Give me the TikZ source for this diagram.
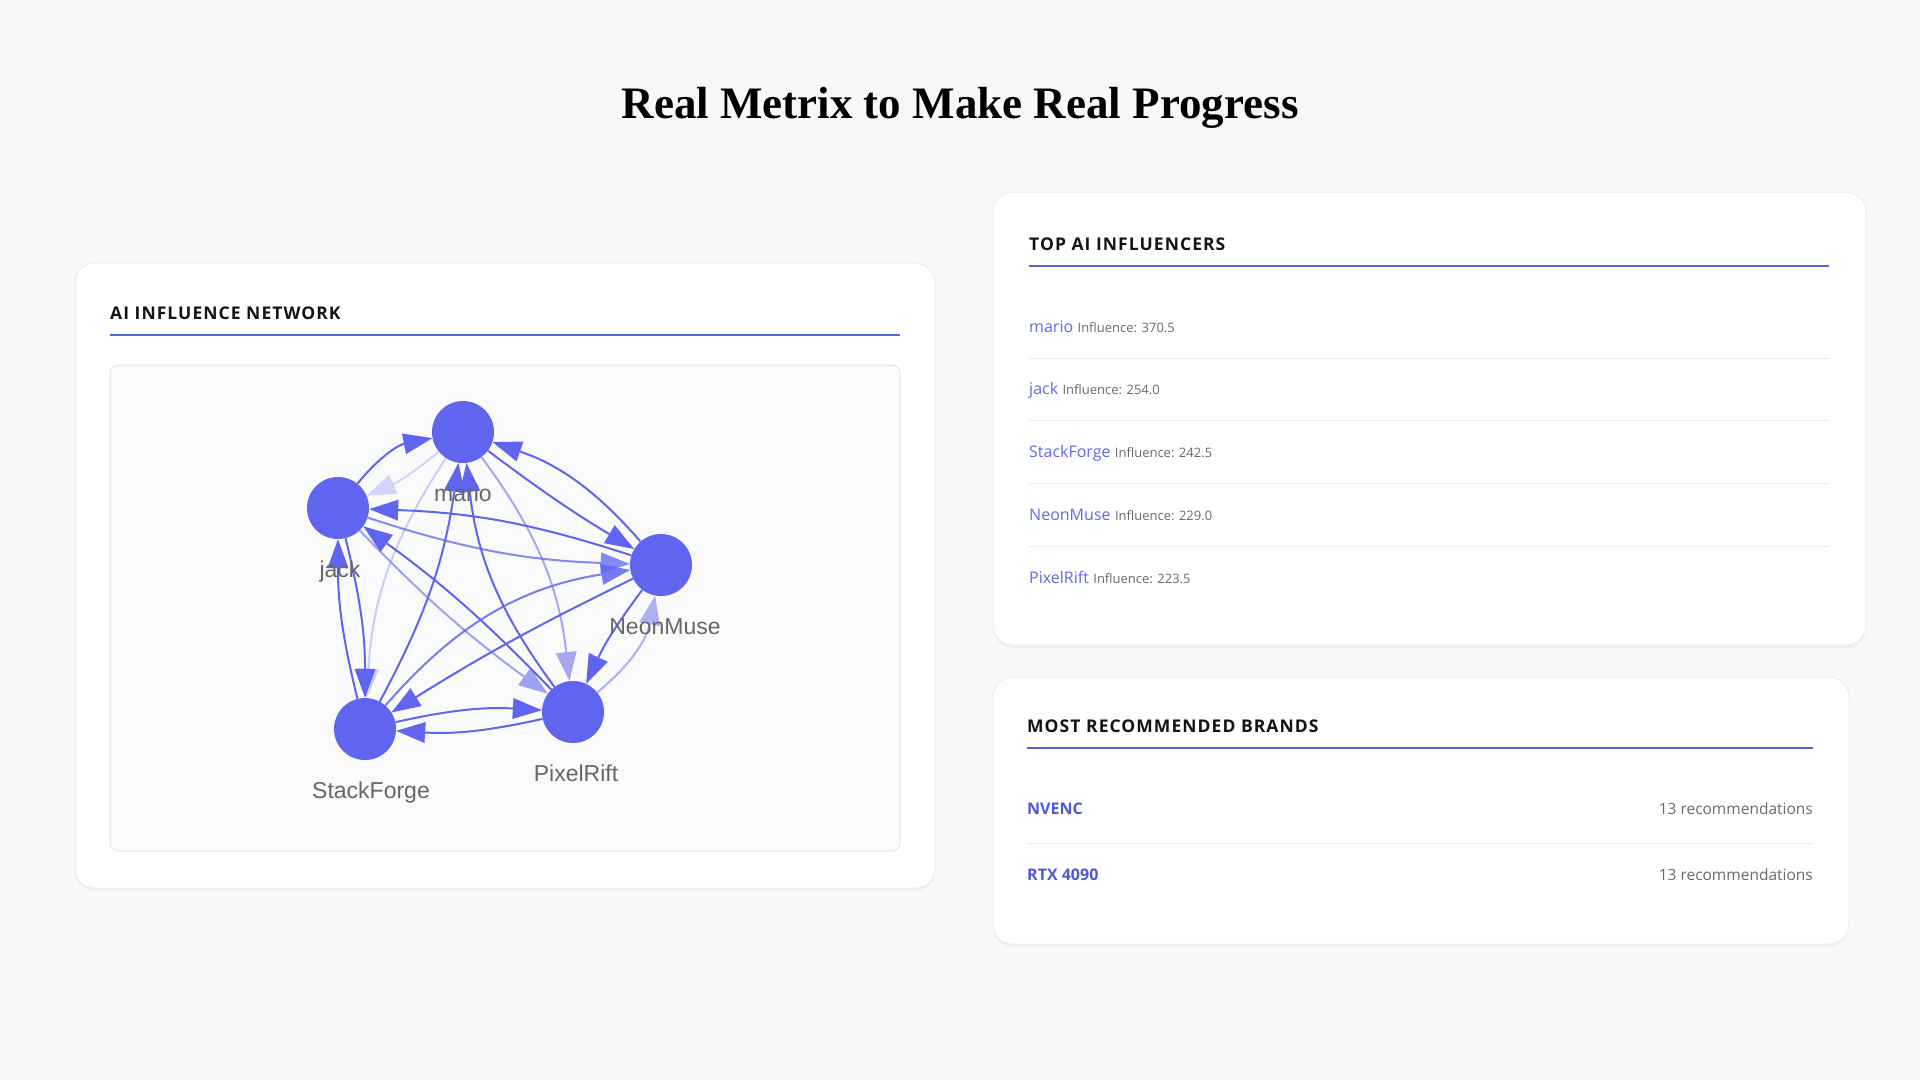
\documentclass[tikz,border=0pt]{standalone}
\usepackage{fontspec}
\setmainfont{Liberation Serif}
\newfontfamily\uifont{Open Sans}
\newfontfamily\uiheadfont[LetterSpace=6]{Open Sans}
\newfontfamily\graphfont{Liberation Sans}
\usetikzlibrary{positioning, arrows.meta, shadows}
\definecolor{pagebg}{HTML}{F8F8F8}
\definecolor{indigo}{HTML}{5F65EF}
\definecolor{rulecol}{HTML}{5E62D8}
\definecolor{namecol}{HTML}{6468EA}
\definecolor{brandcol}{HTML}{5156DC}
\definecolor{headtext}{HTML}{141414}
\definecolor{lblgray}{HTML}{676767}
\definecolor{softgray}{HTML}{6A6A6A}
\definecolor{cardline}{HTML}{EEEEEE}
\definecolor{sepline}{HTML}{ECECEC}
\definecolor{boxfill}{HTML}{FAFAFA}
\definecolor{boxline}{HTML}{E6E6E6}

\begin{document}
\begin{tikzpicture}[x=1pt, y=1pt,
  card/.style={fill=white, draw=cardline, line width=1pt, rounded corners=20pt,
    drop shadow={shadow xshift=0pt, shadow yshift=-3pt, opacity=0.035, fill=black}},
  heading/.style={anchor=base west, inner sep=0pt, text=headtext,
    font=\uiheadfont\bfseries\fontsize{17.5}{21}\selectfont},
  rule/.style={draw=rulecol, line width=2.5pt},
  sep/.style={draw=sepline, line width=1pt},
  person/.style={circle, fill=indigo, minimum size=62pt, inner sep=0pt},
  lbl/.style={anchor=base, inner sep=0pt, text=lblgray, font=\graphfont\fontsize{23}{26}\selectfont},
  link/.style={-{Triangle[length=29pt, width=21pt, line width=0pt]}, draw=indigo, line width=2pt},
  who/.style={anchor=base west, inner sep=0pt, text=namecol, font=\uifont\fontsize{16}{19}\selectfont},
  score/.style={inner sep=0pt, text=softgray, font=\uifont\fontsize{13}{15}\selectfont},
  brand/.style={anchor=base west, inner sep=0pt, text=brandcol, font=\uifont\bfseries\fontsize{16}{19}\selectfont},
  count/.style={anchor=base east, inner sep=0pt, text=softgray, font=\uifont\fontsize{15.5}{18}\selectfont}]

\fill[pagebg] (0,0) rectangle (1920,-1080);
\useasboundingbox (0,0) rectangle (1920,-1080);

\node[anchor=base, inner sep=0pt, font=\bfseries\fontsize{45}{50}\selectfont] (title) at (960,-118) {Real Metrix to Make Real Progress};

\path[card] (75,-263) rectangle (935,-888);
\path[card] (993,-192) rectangle (1866,-645);
\path[card] (993,-677) rectangle (1849,-944);

\node[heading] (nethead) at (110,-319) {AI INFLUENCE NETWORK};
\draw[rule] (110,-335) -- (900,-335);
\draw[fill=boxfill, draw=boxline, line width=1pt, rounded corners=8pt] (110,-365) rectangle (900,-851);

\node[person] (mario) at (463,-432) {};
\node[person] (jack) at (338,-508) {};
\node[person] (neon) at (661,-565) {};
\node[person] (pixel) at (573,-712) {};
\node[person] (stack) at (365,-729) {};

\draw[link] (jack) to[bend left=20] (mario);
\draw[link, opacity=0.25] (mario) to[bend left=8] (jack);
\draw[link] (neon) to[bend right=8] (jack);
\draw[link, opacity=0.75] (jack) to[bend right=8] (neon);
\draw[link] (mario) to[bend right=3] (neon);
\draw[link] (neon) to[bend right=15] (mario);
\draw[link, opacity=0.3] (mario) to[bend right=15] (stack);
\draw[link] (stack) to[bend right=10] (mario);
\draw[link] (pixel) to[bend left=15] (mario);
\draw[link, opacity=0.55] (mario) to[bend left=15] (pixel);
\draw[link] (jack) to[bend left=7] (stack);
\draw[link] (stack) to[bend left=7] (jack);
\draw[link] (pixel) to[bend right=5] (jack);
\draw[link, opacity=0.6] (jack) to[bend right=5] (pixel);
\draw[link, opacity=0.85] (stack) to[bend left=20] (neon);
\draw[link] (neon) to[bend right=3] (stack);
\draw[link] (neon) to[bend right=6] (pixel);
\draw[link, opacity=0.5] (pixel) to[bend right=20] (neon);
\draw[link] (stack) to[bend left=8] (pixel);
\draw[link] (pixel) to[bend left=8] (stack);

\node[lbl] (mario-lbl) at ([yshift=-69pt]mario.center) {mario};
\node[lbl] (jack-lbl) at ([xshift=2pt, yshift=-69pt]jack.center) {jack};
\node[lbl] (neon-lbl) at ([xshift=4pt, yshift=-69pt]neon.center) {NeonMuse};
\node[lbl] (pixel-lbl) at ([xshift=3pt, yshift=-69pt]pixel.center) {PixelRift};
\node[lbl] (stack-lbl) at ([xshift=6pt, yshift=-69pt]stack.center) {StackForge};

\node[heading] (tophead) at (1029,-250) {TOP AI INFLUENCERS};
\draw[rule] (1029,-266) -- (1829,-266);
\foreach \who/\pts [count=\i] in {mario/370.5, jack/254.0, StackForge/242.5, NeonMuse/229.0, PixelRift/223.5} {
  \node[who] (inf\i) at (1029,{-332-62.75*(\i-1)}) {\who};
  \node[score, right=4pt of inf\i.base east, anchor=base west] (pts\i) {Influence: \pts};
}
\foreach \i in {1,...,4}
  \draw[sep] (1029,{-358-62.75*(\i-1)}) -- (1829,{-358-62.75*(\i-1)});

\node[heading] (brandhead) at (1027,-732) {MOST RECOMMENDED BRANDS};
\draw[rule] (1027,-748) -- (1813,-748);
\node[brand] (nvenc) at (1027,-814) {NVENC};
\node[count] (nvenc-n) at (1813,-814) {13 recommendations};
\draw[sep] (1027,-843) -- (1813,-843);
\node[brand] (rtx) at (1027,-880) {RTX 4090};
\node[count] (rtx-n) at (1813,-880) {13 recommendations};
\end{tikzpicture}
\end{document}
